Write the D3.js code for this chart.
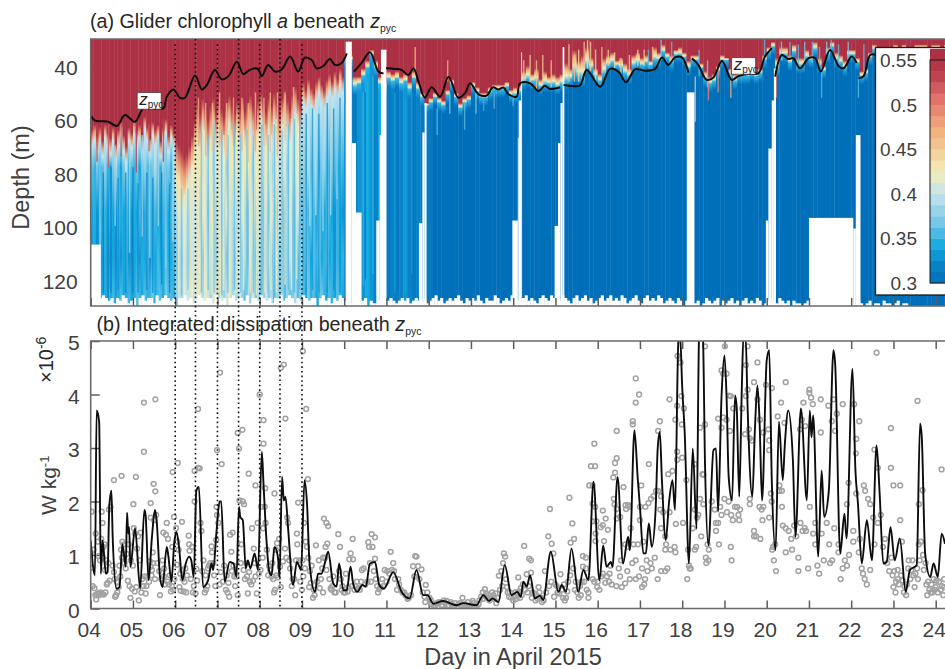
<!DOCTYPE html>
<html>
<head>
<meta charset="utf-8">
<script src="https://cdn.jsdelivr.net/npm/d3@7"></script>
<style>
  html, body { margin: 0; padding: 0; background: #fff; overflow: hidden; }
  svg { display: block; font-family: "Liberation Sans", Arial, sans-serif; }
</style>
</head>
<body>
<svg id="chart" width="945" height="669"></svg>
<script>
// Colour map of the chlorophyll panel
const chlStops = [0.3, 0.32, 0.34, 0.37, 0.4, 0.425, 0.47, 0.505, 0.53, 0.55];
const chlColors = ["#006fba", "#0a82c8", "#10a8e0", "#7cc8e6", "#c6e4ee", "#f3edb4", "#f0b27e", "#e2766b", "#c0454f", "#ad3145"];
const colorbarTicks = [0.3, 0.35, 0.4, 0.45, 0.5, 0.55];

const dayTicks = [4,5,6,7,8,9,10,11,12,13,14,15,16,17,18,19,20,21,22,23,24];
const depthTicks = [40,60,80,100,120];
const dissTicks = [0,1,2,3,4,5];
const markDays = [6, 6.48, 7, 7.5, 8, 8.48, 9];
const markTops = [32, 30, 32, 30, 32, 30, 32];

// Day 4 to 10, one column every 0.0625 day
const leftStep = 0.0625;
const redBaseLeft = [64,62,66,63,68,62,65,67,63,69,64,61,66,70,63,65,60,64,62,66,59,63,67,61,64,62,68,63,60,66,62,65,
  68,70,72,74,73,70,66,60,
  54,58,52,56,60,55,52,57,53,56,59,54,51,55,58,53,56,52,57,54,51,55,59,53,50,54,57,52,55,50,54,58,52,49,53,56,51,48,52,55,
  46,49,45,48,50,46,44,47,49,45,43,46,42,45,41,44];
const fadeBaseLeft = [70,68,72,69,74,67,70,73,68,75,70,66,72,76,68,71,66,70,67,72,64,68,73,66,70,67,74,68,65,72,67,70,
  82,84,88,90,86,82,78,72,
  68,72,64,70,76,68,64,71,66,70,74,67,62,69,72,65,70,64,71,67,63,68,74,66,61,67,71,64,69,62,66,72,64,60,65,69,62,58,63,66,
  54,56,52,55,57,53,50,54,56,52,50,52,49,51,47,50];
const chlRowDepths = [78, 95, 112, 128];
const chlAt78 = [.36,.35,.37,.34,.36,.38,.35,.34,.37,.35,.36,.34,.37,.39,.35,.36,.35,.37,.34,.36,.38,.36,.35,.37,.39,.36,.35,.38,.36,.37,.35,.39,
  .43,.42,.44,.43,.42,.41,.42,.43,
  .42,.43,.41,.40,.43,.42,.39,.41,.43,.40,.42,.38,.41,.43,.40,.42,.39,.41,.43,.42,.40,.38,.41,.43,.40,.39,.42,.41,.38,.40,.42,.39,.41,.40,.38,.41,.39,.40,.42,.38,
  .38,.37,.39,.36,.38,.37,.35,.37,.38,.36,.35,.37,.36,.34,.36,.35];
const chlAt95 = [.34,.345,.33,.345,.34,.35,.33,.345,.34,.33,.355,.345,.34,.36,.34,.33,.345,.34,.355,.33,.345,.36,.34,.345,.355,.34,.33,.355,.345,.34,.36,.355,
  .39,.41,.40,.42,.40,.39,.41,.40,
  .41,.39,.42,.40,.38,.41,.43,.39,.41,.40,.38,.42,.40,.39,.41,.38,.40,.42,.39,.37,.40,.42,.38,.41,.39,.37,.40,.38,.41,.39,.37,.40,.38,.36,.39,.41,.37,.38,.40,.37,
  .36,.38,.35,.37,.36,.34,.37,.35,.34,.36,.35,.34,.33,.35,.34,.33];
const chlAt112 = [.33,.34,.325,.34,.33,.345,.325,.33,.34,.325,.345,.33,.34,.355,.33,.325,.34,.345,.33,.345,.34,.355,.33,.345,.34,.355,.34,.345,.36,.34,.345,.355,
  .37,.39,.38,.40,.39,.38,.40,.41,
  .40,.42,.38,.40,.43,.39,.41,.38,.40,.42,.39,.37,.41,.39,.38,.40,.42,.38,.39,.37,.41,.39,.36,.40,.38,.37,.39,.41,.37,.38,.40,.37,.39,.36,.38,.40,.37,.38,.36,.39,
  .35,.37,.36,.34,.36,.35,.37,.34,.35,.36,.34,.35,.33,.35,.34,.35];
const chlAt128 = [.34,.345,.33,.355,.34,.345,.33,.345,.355,.34,.345,.36,.34,.345,.355,.34,.345,.36,.355,.34,.36,.345,.355,.37,.345,.355,.36,.345,.37,.355,.36,.345,
  .38,.40,.39,.41,.40,.41,.42,.40,
  .43,.41,.39,.42,.40,.38,.41,.43,.39,.41,.38,.40,.42,.38,.40,.39,.41,.38,.36,.40,.38,.41,.37,.39,.36,.38,.40,.37,.39,.36,.38,.37,.39,.36,.38,.36,.37,.39,.36,.37,
  .36,.34,.37,.35,.36,.34,.35,.37,.35,.34,.36,.35,.34,.36,.35,.34];

// Day 10 to the right edge, one column every 0.1 day
const rightStep = 0.1;
const redBaseRight = [36,36,44,44,41,38,34,38,44,46, 42,43,42,44,43,46,42,46,50,54, 52,50,52,53,49,45,50,54,52,51,
  46,48,50,50,48,47,47,47,46,49, 48,47,42,40,43,41,45,42,44,43, 44,43,39,41,34,38,36,33,37,41,
  43,37,36,35,38,37,39,41,36,35, 37,36,38,33,35,32,35,36,34,33, 35,38,36,36,39,42,44,43,40,36,
  37,41,43,42,42,42,41,42,41,36, 33,31,37,33,33,36,32,37,37,34, 36,31,37,40,33,31,35,36,38,34,
  34,37,42,41,35,32,33,33,34,33, 32,33,32,33,33,32,32,32,33,32, 32,33,32,33];
const blueTopRight = [38,38,48,47,44,41,36,41,47,50, 45,46,45,47,46,49,45,49,52,55, 54,52,54,55,51,47,52,56,54,53,
  48,50,52,52,50,49,49,49,48,51, 51,50,46,45,46,46,48,47,47,47, 48,47,46,45,43,44,45,40,41,44,
  46,43,40,39,40,41,43,44,40,39, 40,39,40,38,38,35,37,39,36,36, 37,41,38,38,41,45,47,46,42,38,
  38,43,46,44,44,44,43,44,43,38, 35,33,41,36,36,39,35,40,40,37, 38,34,40,42,36,33,38,39,41,36,
  36,39,44,43,37,34,35,35,35,34, 34,35,34,35,35,34,34,34,35,34, 34,35,34,35];
const deepChlRight = [.32,.32,.31,.33,.33,.34,.33,.32,.34,.33, .31,.32,.31,.32,.33,.32,.31,.32,.31,.31, .31,.30];
const fringeChl = [0.55, 0.47, 0.42, 0.35];

// Thin single-profile streaks: day, top depth, bottom depth, chlorophyll
const streaks = [
  [4.3,80,125,.32],[4.48,78,125,.32],[4.65,82,124,.325],[4.83,80,125,.32],[5,78,125,.32],[5.12,84,125,.325],[5.33,80,124,.32],[5.47,82,125,.325],[5.68,80,122,.32],[5.87,84,125,.325],
  [4.22,68,108,.385],[4.58,70,100,.38],[4.92,72,110,.385],[5.22,66,104,.38],[5.4,68,112,.39],[5.6,66,100,.385],[5.78,70,116,.38],[5.95,68,106,.39],
  [6.08,80,125,.43],[6.22,88,126,.42],[6.36,82,125,.43],[6.55,66,125,.43],[6.7,64,124,.425],[6.85,68,126,.43],[7.03,62,125,.43],[7.15,66,124,.425],[7.32,64,126,.43],[7.47,66,125,.43],[7.62,64,124,.425],[7.78,66,125,.43],[7.92,64,126,.425],[8.12,62,125,.43],[8.27,66,124,.425],[8.4,60,125,.43],[8.6,62,122,.425],[8.75,60,124,.42],[8.88,58,120,.42],
  [6.15,86,126,.365],[6.3,86,124,.37],[6.62,62,125,.365],[6.78,66,124,.36],[6.92,62,125,.365],[7.1,64,126,.36],[7.25,66,125,.365],[7.4,62,124,.36],[7.55,66,125,.365],[7.7,64,126,.36],[7.85,66,125,.365],[8.05,62,124,.36],[8.2,66,125,.365],[8.35,62,126,.36],[8.53,64,125,.365],[8.68,62,124,.36],[8.82,60,125,.355],[8.95,58,124,.355],
  [9.1,58,125,.33],[9.25,56,124,.335],[9.4,58,125,.33],[9.6,54,125,.33],[9.75,56,124,.33],[9.9,52,125,.33],
  [9.18,54,100,.39],[9.33,56,96,.395],[9.5,52,102,.385],[9.68,52,96,.39],[9.83,50,90,.385],
  [4.15,62,76,.53],[4.42,62,78,.52],[4.72,62,74,.52],[5.08,64,80,.54],[5.38,62,72,.52],[5.72,60,76,.53],
  [6.55,52,70,.48],[6.72,54,74,.47],[6.88,54,72,.46],[7.05,50,70,.47],[7.22,54,74,.46],[7.38,52,70,.48],[7.58,52,72,.47],[7.73,54,76,.46],[7.9,50,72,.47],[8.1,52,70,.47],[8.25,50,72,.46],[8.42,50,74,.47],[8.6,50,68,.46],[8.8,48,66,.46],
  [10.45,50,122,.35],[10.55,46,126,.345],[10.68,44,118,.35],[10.5,50,120,.31],[11.2,50,125,.34],[11.45,52,125,.34],[11.6,50,118,.335],
  [12.2,56,66,.36],[12.5,50,58,.37],[12.85,54,64,.36],[13.12,50,58,.37],[13.3,52,57,.35],[13.55,50,56,.36],[14,50,55,.36],
  [11.68,33,44,.46],[12.45,38,46,.47],[14.25,38,46,.46],[14.4,36,47,.45],[14.55,38,49,.46],[14.7,36,47,.45],[14.9,38,48,.46],
  [15.32,32,46,.45],[15.45,36,46,.46],[15.55,34,46,.44],[15.68,31,41,.46],[15.76,30.5,41,.44],[15.83,31,42,.45],[15.95,34,46,.44],[16.1,33,43,.46],[16.25,34,40,.45],[16.4,35,41,.44],[16.55,37,43,.46],[16.75,36,44,.45],[16.95,34,40,.44],[17.1,34,40,.45],[17.3,33,38,.46],
  [17.2,34,40,.36],[17.5,30,38,.37],[17.75,31,37,.36],[18.4,34,44,.36],[18.6,38,48,.37],[19.95,30,36,.36],[20.35,31,38,.37],[20.55,31,38,.36],[20.75,32,40,.36],[20.9,31,38,.37],[21.08,31,39,.36],[21.25,33,42,.36],[21.42,31,36,.37],[21.53,30,35,.36],[21.7,32,40,.36],[21.93,31,38,.37],[22.3,32,42,.36],
  [18.31,44,61,.46],[18.62,45,53,.5],[18.85,40,50,.49],[19.15,42,52,.47],[20.23,41,52,.5],[21.3,42,52,.36],[22.17,44,52,.36]
];

// White gaps in the record: start day, end day, depth the gap starts at
const gapStart = [4,10.035,10.18,10.28,10.76,10.84,10.87,11.77,11.85,11.905,13.98,14.11,14.13,14.19,14.98,15.06,15.12,15.17,18.11,19.98,20.04,20.12,20.17,21,22.05,22.11];
const gapEnd = [4.24,10.18,10.28,10.41,10.84,10.87,11,11.85,11.905,11.95,14.11,14.13,14.19,14.21,15.06,15.12,15.17,15.21,18.29,20.04,20.12,20.17,20.22,22.05,22.11,22.22];
const gapDepth = [107,31,69,95,98,66,34,99,65,54,98,67,53,35,100,69,54,33,50,98,71,53,41,97,101,66];

// Deepest sample of each profile, one every 0.0667 day from day 4
const floorStep = 0.0667;
const floorDepths = [127,127,128,127,126,127,128,127,129,127,128,126,127,129,128,127,130,127,126,128,127,127,129,126,128,127,126,127,128,127,
  130,127,127,126,128,127,129,127,126,127,128,127,127,129,126,127,128,127,130,127,126,128,127,127,128,126,129,127,127,128,
  126,127,128,127,129,127,127,126,128,127,126,127,129,127,128,126,127,128,127,127,130,127,126,128,127,129,127,128,126,127,
  128,128,129,128,130,129,128,127,130,128,129,129,128,130,129,128,127,128,129,128,127,128,127,129,128,127,128,128,127,129,
  128,127,126,128,127,129,128,127,128,127,126,128,129,127,128,127,128,126,128,129,127,128,128,126,127,129,128,127,128,126,
  129,128,128,127,126,128,127,128,129,127,126,127,128,126,127,129,128,126,127,128,129,127,126,128,127,126,128,127,129,128,
  127,126,128,127,126,128,127,128,126,127,129,128,127,126,128,129,127,126,128,127,128,126,127,129,128,127,128,129,127,128,
  130,128,129,127,129,128,130,129,127,128,129,128,127,130,128,129,128,127,129,128,130,128,127,129,128,129,127,128,130,129,
  128,127,128,129,127,128,129,128,130,128,129,129,130,129,128,130,129,129,128,130,129,130,128,129,129,130,128,129,130,129,
  129,130,128,129,130,129,128,130,129,129,130,128,129,129,130,129,128,130,129,129];

// Pycnocline depth, split where the record breaks, as [day, depth]
const zpycSegments = [
  [[4,58.7],[4.1,60.6],[4.25,60.8],[4.42,61],[4.62,62.6],[4.81,58.5],[5.05,61],[5.25,56],[5.52,56],[5.72,56],[5.8,51.6],[5.96,48.9],[6.11,52],[6.23,52],[6.47,43.7],[6.63,48.9],[6.75,47.2],[6.94,41.6],[7.1,45.1],[7.26,43.9],[7.46,38.5],[7.61,43.1],[7.73,41.9],[7.89,41],[7.97,41.4],[8.05,43.9],[8.2,39.7],[8.36,42.2],[8.52,41.4],[8.72,36.6],[8.91,42.2],[9.07,37],[9.23,37.9],[9.35,41],[9.5,40.2],[9.66,37.5],[9.78,39.7],[9.94,39],[10.06,35.4]],
  [[10.23,42.2],[10.41,39],[10.61,35],[10.81,42.2],[10.93,42.9]],
  [[10.99,41],[11.2,41.2],[11.36,41.6],[11.52,43.5],[11.64,41],[11.76,46],[11.91,52],[12.07,48.1],[12.27,51.6],[12.47,44.1],[12.7,52],[12.86,50.3],[12.98,46.6],[13.18,50.7],[13.37,51.2],[13.52,48.1],[13.65,48.9],[13.77,48.2],[13.89,50.7],[14.08,51.6],[14.16,46.6],[14.4,46.6],[14.6,49.5],[14.75,47.5],[14.87,48.7],[15.11,48.1]],
  [[15.19,47.2],[15.4,47.6],[15.58,47.4],[15.74,41.6],[16.06,47.9],[16.29,41.2],[16.49,42.2],[16.67,46.2],[16.89,41.3],[17.12,41.9],[17.36,41.2],[17.52,36.9],[17.67,39.7],[17.83,36.9],[17.99,36.9],[18.15,42.6]],
  [[18.23,37.2],[18.38,39.7],[18.58,45.3],[18.74,44.4],[18.94,38.2],[19.17,45.3],[19.33,43.9],[19.6,43],[19.8,42.9],[19.96,36.6],[20.12,33.4]],
  [[20.2,44.1],[20.36,36],[20.51,37.5],[20.63,37.2],[20.79,41],[20.99,37.2],[21.15,37.2],[21.28,42.2],[21.5,34.1],[21.7,40.1],[21.82,41],[22.01,36.6],[22.13,39]],
  [[22.17,44.7],[22.29,44],[22.45,36],[22.6,36]]
];
const zpycLabelDays = [5.1, 19.17];
const zpycLabelDepths = [50.1, 37];

// Smoothed dissipation, [day, W/kg x 1e-6]
const dissLine = [[4,1.27],[4.1,.62],[4.14,3.7],[4.2,3.49],[4.24,.65],[4.28,1.27],[4.36,.65],[4.4,.68],[4.44,1.9],[4.49,2.2],[4.52,1.34],[4.61,.37],[4.68,.4],[4.75,1.2],[4.83,.78],[4.86,1.79],[4.89,1.4],[4.91,1.52],[4.94,.78],[5.05,1.5],[5.17,.37],[5.27,1.84],[5.3,1.74],[5.37,.53],[5.45,1.34],[5.52,1.84],[5.56,1.65],[5.64,.59],[5.7,.4],[5.8,1.15],[5.84,.97],[5.91,.5],[5.98,1.25],[6.03,1.43],[6.09,1.15],[6.17,.53],[6.25,.84],[6.33,.97],[6.38,.9],[6.44,.59],[6.5,2.2],[6.56,2.27],[6.66,.4],[6.78,.53],[6.86,.84],[6.9,.72],[6.98,1.46],[7.05,2],[7.09,2],[7.17,.5],[7.29,.87],[7.38,.84],[7.45,.59],[7.51,1.9],[7.54,1.71],[7.6,1.65],[7.67,.75],[7.72,.9],[7.78,.75],[7.88,1.03],[7.96,.72],[8.05,2.93],[8.09,2.33],[8.16,1.28],[8.22,.72],[8.28,.62],[8.35,1.15],[8.43,.97],[8.47,.59],[8.53,2.46],[8.57,2.02],[8.61,2.09],[8.67,1.52],[8.79,.44],[8.88,.87],[8.94,.78],[8.98,.72],[9.06,2.4],[9.12,1.96],[9.18,.84],[9.31,.31],[9.38,.65],[9.46,.65],[9.54,.84],[9.62,1.06],[9.74,.47],[9.82,.41],[9.88,.84],[9.98,.34],[10.06,.34],[10.15,.78],[10.21,.47],[10.31,.31],[10.43,.44],[10.51,.41],[10.61,.84],[10.73,.87],[10.83,.44],[10.94,.37],[11.16,.68],[11.36,.31],[11.55,.19],[11.71,.72],[11.87,.25],[11.97,.25],[12.11,.09],[12.34,.14],[12.66,.06],[12.82,.1],[13.13,.06],[13.29,.25],[13.43,.14],[13.51,.19],[13.65,.12],[13.8,.81],[13.96,.25],[14.1,.31],[14.18,.22],[14.24,.5],[14.32,.41],[14.4,.62],[14.51,.19],[14.63,.24],[14.71,.16],[14.89,1.06],[15.07,.31],[15.15,.44],[15.25,.31],[15.38,1.12],[15.54,.31],[15.66,.72],[15.78,.53],[15.9,2.37],[16.04,.53],[16.13,1.18],[16.21,.78],[16.31,.87],[16.35,.78],[16.47,2.46],[16.6,.84],[16.72,1.34],[16.76,1.09],[16.87,3.33],[16.95,2.4],[17,1.9],[17.08,1.03],[17.14,1.03],[17.21,1.59],[17.28,1.15],[17.37,1.84],[17.42,2.99],[17.47,3.3],[17.52,2.4],[17.61,1.28],[17.69,2],[17.77,2.4],[17.83,1.84],[17.91,5],[17.95,5.1],[18,4.14],[18.06,3.27],[18.16,.84],[18.25,2.99],[18.34,1.49],[18.4,5.1],[18.45,5.3],[18.49,5.1],[18.54,2.7],[18.62,1.18],[18.74,2.96],[18.8,2.99],[18.85,1.81],[18.93,3.95],[19,4.73],[19.05,3.95],[19.1,2.46],[19.18,2.02],[19.25,3.98],[19.29,3.76],[19.35,2.09],[19.41,4.08],[19.45,5.1],[19.5,5.1],[19.55,3.7],[19.66,2.09],[19.72,3.33],[19.78,4.17],[19.83,3.52],[19.89,2.02],[20,4.64],[20.06,4.83],[20.12,2.4],[20.21,1.09],[20.29,3.49],[20.38,2.4],[20.43,3.08],[20.51,3.7],[20.62,2.77],[20.68,1.34],[20.81,3.74],[20.95,2.02],[21.02,3.7],[21.06,3.2],[21.1,3.61],[21.22,.97],[21.3,2.58],[21.36,1.71],[21.47,2.2],[21.58,4.83],[21.62,4.58],[21.74,1.03],[21.84,1.77],[21.89,1.31],[22.03,4.48],[22.1,2.58],[22.16,1.96],[22.25,.84],[22.37,1.65],[22.49,.9],[22.6,3.05],[22.67,2.2],[22.76,.84],[22.84,.87],[22.93,1.52],[23.03,.9],[23.15,1.31],[23.29,.31],[23.39,.72],[23.55,.81],[23.63,3.46],[23.67,3.21],[23.75,1.03],[23.87,.59],[23.95,.84],[24.05,.59],[24.14,1.4],[24.22,1.21]];

// Individual dissipation estimates, [day, W/kg x 1e-6]
const dissPoints = [[4.02,1.81],[4.26,1.81],[4.28,1.6],[4.55,2.4],[4.73,2.48],[5.07,2.46],[5.26,3.85],[5.53,3.91],[5.26,2.93],[5.49,2.33],[5.53,2.19],[5.42,1.97],[5.01,1.95],[6.06,2.72],[5.94,2.55],[5.97,1.71],[6.54,3.73],[6.46,2.57],[6.54,2.63],[6.58,2.62],[7.06,4.41],[6.99,2.96],[7.1,2.7],[7.48,3.28],[7.59,3.34],[7.51,2.99],[7.74,2.52],[7.9,2.3],[8,4],[8.09,3.52],[8.09,3.08],[8.35,2.15],[8.5,4.5],[8.57,4.56],[8.61,3.55],[9.02,4.81],[9.1,3.73],[9.14,2.42],[8.91,1.98],[6.16,1.62],[5.8,1.6],[5.72,1.42],
[4,1.04],[4.03,.76],[4.05,.42],[4.09,.38],[4.11,.25],[4.13,.17],[4.15,.27],[4.18,.28],[4.2,.25],[4.23,.3],[4.27,.27],[4.31,.26],[4.35,.3],[4.38,.45],[4.4,.48],[4.45,.52],[4.12,1.4],[4.18,.98],[4.25,1.3],[4.3,1.15],[4.33,1.2],[4.37,.9],[4.43,1.85],[4.47,1.9],[4.52,.8],[4.55,.68],[4.58,.22],[4.6,.25],[4.63,.3],[4.66,.4],[4.7,.6],[4.72,1.1],[4.75,1.25],[4.8,.85],[4.83,.75],[4.88,.52],[4.92,.42],[4.94,.2],[4.98,.37],[5.04,.32],[5.08,.4],[5.12,1.35],[5.14,.15],[5.2,.3],[5.3,.28],[5.02,1.5],[5.05,1.4],[5.18,1.42],[5.28,.6],[5.34,.6],[5.4,.88],[5.42,.78],[5.45,.72],[5.47,1.05],[5.42,1.7],[5.5,1.65],[5.55,1.75],[5.64,.25],[5.67,.55],[5.73,.6],[5.76,.45],[5.85,.45],[5.9,.32],[5.95,.35],[5.98,.55],[5.78,1.38],[5.83,1.3],[5.93,1.15],
[4.07,1.1],[4.17,1.25],[4.22,.9],[4.29,.95],[4.34,.72],[4.42,.85],[4.57,.55],[4.62,.5],[4.68,.8],[4.74,.95],[4.78,1.2],[4.85,1.02],[4.9,1.2],[4.95,.9],[5,.8],[5.1,1.12],[5.16,.9],[5.22,.55],[5.25,.42],[5.32,.42],[5.38,.5],[5.44,.62],[5.48,.85],[5.52,.55],[5.58,.85],[5.62,.7],[5.7,.9],[5.74,.75],[5.82,.5],[5.87,.62],[5.92,.42],
[6.02,1.5],[6.05,1.25],[6.08,1.1],[6.1,.4],[6.13,.33],[6.18,.55],[6.2,.32],[6.24,.75],[6.26,.3],[6.32,1.36],[6.33,1.2],[6.34,1.08],[6.4,1.15],[6.42,.3],[6.48,.28],[6.5,.74],[6.46,2],[6.6,1.6],[6.62,1.45],[6.67,.9],[6.7,.3],[6.73,.35],[6.76,.42],[6.8,.8],[6.83,.85],[6.86,1.16],[6.87,1.05],[6.92,.62],[6.97,1.28],[6.98,1.9],[6.99,1.75],[7.02,1.6],[7.05,.45],[7.16,.8],[7.2,.35],[7.24,.3],[7.28,.22],[7.3,1.38],[7.36,1.42],[7.33,1.06],[7.38,.8],[7.42,.42],[7.45,.6],[7.48,.25],[7.52,2.02],[7.6,2],[7.63,1.95],[7.57,1.2],[7.65,.55],[7.7,.6],[7.72,.28],[7.77,.5],[7.8,.45],[7.82,1.5],[7.86,1.12],[7.9,.6],[7.93,.28],[7.95,1.6],[7.98,.65],[8.03,1.9],[8.08,1.5],[8.12,1.9],[8.13,2.25],[8.14,1.6],[8.17,1.1],[8.22,.8],[8.28,.6],[8.32,.55],[8.38,1.1],[8.41,1.22],[8.36,.35],[8.34,.3],[8.43,.58],[8.46,1.3],[8.5,.4],[8.65,1.7],[8.67,1.6],[8.6,1.12],[8.63,.95],[8.7,.9],[8.78,.55],[8.84,.25],[8.88,1.4],[8.89,1.2],[8.86,.9],[8.94,.9],[9,.35],[9.01,.9],[9.05,1.6],[9.09,1.25],[9.12,1.15],[9.15,.95],[9.17,.4],[9.19,.7],[9.23,.8],[9.26,.2],[9.3,.25],[9.33,1.18],[9.4,.9],[9.45,.55],[9.5,.3],[9.52,1.68],[9.58,1.6],[9.62,1.54],[9.6,1.21],[9.56,1.15],[9.55,.95],[9.5,.95],[9.7,.35],[9.74,.6],[9.8,.3],[9.86,1.39],[9.9,1.15],[9.88,.7],[9.94,.35],[9.99,.3],
[6.04,.82],[6.12,.65],[6.15,.72],[6.22,.5],[6.28,.62],[6.37,.55],[6.44,.42],[6.52,.52],[6.64,.7],[6.72,.62],[6.78,.75],[6.9,.85],[6.95,.42],[7.08,.68],[7.13,.5],[7.22,.62],[7.26,.48],[7.34,.7],[7.4,.6],[7.55,.85],[7.62,.72],[7.68,.85],[7.75,.68],[7.84,.52],[7.88,.85],[8.02,.72],[8.07,.95],[8.2,.62],[8.25,.72],[8.3,.85],[8.4,.62],[8.48,.78],[8.55,.88],[8.72,.75],[8.76,.42],[8.82,.55],[8.96,.5],[9.03,.6],[9.07,.75],[9.21,.48],[9.28,.35],[9.36,.5],[9.42,.38],[9.48,.75],[9.58,.72],[9.65,.55],[9.68,.38],[9.72,.42],[9.77,.3],[9.92,.55],[9.96,.42],
[10.04,.65],[10.08,.32],[10.12,.92],[10.15,1.03],[10.2,1.3],[10.21,.92],[10.24,.35],[10.3,.5],[10.37,.35],[10.42,.72],[10.46,.75],[10.5,.45],[10.57,1.24],[10.59,1.15],[10.67,1.15],[10.65,1.39],[10.73,1.33],[10.73,.93],[10.61,.85],[10.75,.55],[10.8,.3],[10.86,.4],[10.9,.55],[10.96,.72],[11.02,.7],[11.1,1.06],[11.16,.85],[11.2,.55],[11.25,.35],[11.3,.45],[11.38,.3],[11.45,.25],[11.53,.2],[11.63,.79],[11.71,.97],[11.68,.98],[11.75,.79],[11.83,.73],[11.93,.44],[11.9,.22],[11.97,.3],
[10.02,.3],[10.1,.4],[10.18,.42],[10.27,.42],[10.33,.38],[10.4,.5],[10.55,.5],[10.63,.5],[10.7,.7],[10.78,.42],[10.83,.36],[10.92,.42],[11,.5],[11.07,.65],[11.13,.72],[11.18,.7],[11.28,.55],[11.34,.35],[11.42,.3],[11.5,.18],[11.58,.25],[11.66,.6],[11.78,.55],[11.86,.3],[11.92,.12],
[12.05,.15],[12.12,.05],[12.18,.1],[12.24,.12],[12.3,.06],[12.36,.15],[12.42,.14],[12.48,.06],[12.54,.08],[12.6,.03],[12.68,.02],[12.74,.1],[12.8,.2],[12.86,.08],[12.92,.12],[12.98,.06],[13.04,.14],[13.1,.05],[13.18,.08],[13.24,.22],[13.28,.3],[13.33,.36],[13.38,.2],[13.44,.15],[13.5,.3],[13.55,.18],[13.6,.1],[13.66,.61],[13.72,.7],[13.78,1.03],[13.81,.97],[13.76,.85],[13.85,.4],[13.92,.3],[14,.15],[14.05,.3],[14.12,.58],[14.16,.2],[14.2,.25],[14.26,1.17],[14.32,.64],[14.38,.93],[14.42,.9],[14.42,.67],[14.46,.3],[14.55,.25],[14.6,.4],[14.66,.2],[14.72,.15],[14.75,.7],[14.83,1.35],[14.91,1.21],[14.87,1.86],[14.95,1.03],[15,.45],[15.05,.3],[15.12,.64],[15.18,.2],[15.22,.15],[15.3,.5],[15.33,2.07],[15.4,1.59],[15.36,1.23],[15.44,1.3],[15.48,.5],[15.52,.3],[15.6,.25],[15.65,.98],[15.72,.95],[15.65,.78],[15.72,.75],[15.78,.3],[15.78,.2],
[12.02,.2],[12.08,.08],[12.15,.05],[12.22,.03],[12.28,.12],[12.33,.05],[12.45,.05],[12.52,.12],[12.57,.05],[12.63,.1],[12.7,.08],[12.77,.05],[12.84,.02],[12.9,.05],[12.95,.04],[13.02,.03],[13.07,.1],[13.14,.03],[13.2,.15],[13.3,.18],[13.36,.28],[13.41,.25],[13.47,.2],[13.53,.25],[13.58,.28],[13.63,.2],[13.69,.35],[13.74,.42],[13.83,.55],[13.87,.3],[13.9,.22],[13.95,.2],[14.03,.22],[14.08,.18],[14.1,.28],[14.14,.32],[14.18,.38],[14.23,.45],[14.28,.35],[14.34,.3],[14.37,.42],[14.44,.2],[14.5,.28],[14.53,.15],[14.58,.18],[14.62,.3],[14.68,.12],[14.78,.3],[14.85,.42],[14.9,.5],[14.97,.22],[15.03,.42],[15.09,.28],[15.15,.35],[15.2,.45],[15.25,.2],[15.28,.32],[15.35,.62],[15.42,.75],[15.46,.35],[15.55,.2],[15.58,.42],[15.62,.5],[15.68,.5],[15.74,.35],
[15.92,.5],[15.99,.4],[15.88,.55],[16.08,.6],[16.18,.48],[16.12,.65],[16.27,.5],[16.33,.45],[16.44,.42],[16.5,.75],[16.55,.9],[16.7,.7],[16.76,.55],[16.82,.85],[16.9,.55],[16.98,.6],[17.05,.75],[17.12,.55],[17.18,.7],[17.25,.85],[17.35,.95],[17.42,.55],[17.5,.7],
[15.92,3.08],[15.84,2.66],[15.94,2.66],[15.8,2.3],[15.88,2.3],[15.88,1.96],[15.94,1.9],[15.9,1.63],[15.97,1.63],[15.95,1.4],[15.95,1.26],[16,.5],[16.12,1.83],[16.19,1.68],[16.12,1.56],[16.07,1.52],[16.24,1.47],[16.15,1.26],[16.04,.35],[16.22,.6],[16.28,.65],[16.3,.8],[16.45,3.32],[16.45,2.81],[16.41,2.72],[16.41,2.54],[16.37,2.45],[16.61,2.27],[16.38,2.05],[16.4,1.95],[16.72,1.93],[16.67,1.86],[16.53,1.71],[16.45,1.86],[16.45,1.68],[16.65,1.2],[16.72,1.15],[16.53,.6],[16.65,.47],[16.57,.4],
[16.9,4.3],[16.98,4],[16.9,3.85],[16.83,3.5],[16.83,3.44],[17.21,2.7],[17.47,3.5],[17.43,3.32],[17.7,3.91],[17.67,2.51],[17.77,2.57],[17.89,4.72],[17.96,4.6],[17.88,3.79],[17.98,3.97],[18.04,3.74],[17.84,3.53],[17.99,3.44],[17.88,2.93],[17.88,2.78],[18,2.82],[18.3,2.7],[18.54,4.9],[18.42,3.38],[18.54,3.44],[18.48,2.51],[19.01,4.9],[18.93,4.45],[18.97,4.39],[19.05,4.39],[19.11,3.98],[19.15,3.97],[19.21,3.74],[18.85,3.55],[18.97,3.57],[19.05,3.53],[18.93,3.38],[19.13,3.32],[19.55,4.9],[19.51,4.55],[19.78,4.6],[19.7,4.23],[19.55,4.09],[19.51,3.97],[19.42,3.74],[19.78,3.91],[19.98,4.18],[20.12,4.12],[20.45,4.23],[20.34,3.85],[20.26,3.59],[19.84,3.53],[19.92,3.29],[20.04,3.35],[19.58,3.35],[19.6,3.18],[19.65,3.14],[19.49,3.26],[20.06,3.14],[20.06,2.96],[21.01,4.09],[21.01,4.03],[21.05,3.94],[20.87,3.85],[21.09,3.82],[21.28,3.91],[21.46,3.79],[21.58,3.91],[21.8,3.82],[21.54,3.5],[21.66,3.64],[21.62,3.32],[21.28,3.29],[20.83,3.53],[20.91,3.41],[20.79,3.35],[20.42,3.47],[22.07,3.82],[22.19,3.5],[22.12,3.17],[22.11,2.9],[22.6,4.78],[22.94,3.37],[22.55,2.97],[22.63,2.63],[22.94,2.63],[23,2.3],[23.16,2.3],[23.57,3.88],[24.14,2.6],[23.69,2.21],[23.6,1.95],
[16.66,1.93],[16.75,1.9],[16.78,1.5],[16.85,1.2],[16.9,.9],[16.95,1.2],[17.03,2.3],[17,1.9],[17,1.65],[17.1,.45],[17.05,.4],[17.13,1.9],[17.2,1.97],[17.26,2.05],[17.32,2.1],[17.08,1.25],[17.16,.9],[17.28,.75],[17.38,2.2],[17.43,2.2],[17.5,2.1],[17.48,1.85],[17.55,1.8],[17.5,1.5],[17.6,1.35],[17.62,1.2],[17.6,1.1],[17.7,1.8],[17.72,1.1],[17.65,.75],[17.6,.7],[17.82,1.15],[17.84,1.05],[17.85,1.58],[18.02,1.6],[18.1,2.4],[18.12,.55],[18.16,.8],[18.18,.75],[18.2,.75],[18.14,1.1],[18.25,1.5],[18.3,1.85],[18.35,1.7],[18.38,1.75],[18.3,1.1],[18.33,1.15],[18.42,2.05],[18.5,2.5],[18.45,1.35],[18.5,1.95],[18.56,.95],[18.6,1.2],[18.63,1.1],[18.57,.85],[18.62,.9],[18.7,2],[18.77,1.85],[18.8,1.6],[18.85,1.6],[18.9,1.9],[18.93,1.75],[18.8,1.45],[18.87,1.2],[19,2.05],[19.06,1.8],[19.1,2],[19.16,1.75],[19.2,1.65],[19.25,1.9],[19.3,1.9],[19.33,1.75],[19.37,1.85],[19.35,1.65],[19.15,1.15],[19.17,.9],[19.6,1.95],[19.6,2.05],[19.7,1.45],[19.75,1.35],[19.7,1.35],[19.85,1.3],[19.83,1.9],[19.88,1.85],[19.9,1.65],[19.92,1.9],[20.06,1.7],[20.1,2.15],[20.12,2],[20.15,1.15],[20.13,1.1],[20.17,.9],[20.2,1.2],[20.22,.7],[20.3,2.2],[20.3,2.3],[20.36,2.2],[20.36,1.9],[20.38,1.55],[20.45,1.5],[20.52,1.45],[20.45,1.05],[20.58,1.3],[20.6,1.1],[20.65,1.55],[20.7,1.35],[20.75,.95],[20.75,.7],[20.8,1.6],[20.85,1.45],[20.9,1.5],[20.93,1.45],[20.98,.75],[21.02,1.9],[21.1,1.4],[21.15,1.6],[21.15,1.2],[21.2,.8],[21.24,.65],[21.3,1.4],[21.35,.9],[21.42,1.6],[21.48,1.2],[21.5,.85],[21.55,.9],[21.6,1.5],[21.7,1.2],[21.7,1.05],[21.75,.55],[21.85,.9],[21.8,.75],[21.9,.8],[21.95,1],[21.9,1.95],[21.94,2.35],[22.05,1.45],[22.05,1.25],[22.12,2.15],[22.2,1.3],[22.18,1.05],[22.25,.75],[22.28,.65],[22.32,.55],[22.37,.45],[22.45,.72],[22.3,2.3],[22.33,2.2],[22.4,2.05],[22.45,1.95],[22.52,1.7],[22.55,1.2],[22.63,1.6],[22.7,1.75],[22.75,1.15],[22.8,1.3],[22.85,.85],[22.9,.7],[22.95,.95],[23,.4],[23.05,.3],[23.1,.55],[23.16,1.65],[23.2,1.25],[23.25,.3],[23.3,.25],[23.35,.75],[23.4,.55],[23.45,.9],[23.5,.4],[23.56,.75],[23.6,1.2],[23.65,1.25],[23.7,1],[23.76,.85],[23.8,.25],[23.85,.35],[23.9,.45],[23.95,.55],[24,.4],[24.05,.3],[24.12,.35],[24.18,.25],[24.2,.4],
[22.98,.62],[23.02,.7],[23.06,.5],[23.1,.72],[23.13,.45],[23.18,.62],[23.22,.52],[23.26,.42],[23.32,.45],[23.36,.9],[23.42,.72],[23.47,.62],[23.52,.65],[23.58,.55],[23.62,.9],[23.72,.72],[23.78,.45],[23.82,.5],[23.88,.3],[23.92,.3],[23.98,.35],[24.02,.52],[24.08,.5],[24.15,.42],[24.2,.55]];

const svg = d3.select("#chart");
const textColor = "#404040";
const axisColor = "#5c5c5c";

// Shared scales
const x = d3.scaleLinear().domain([4, 25]).range([90.7, 90.7 + 21 * 42.25]);
const depthY = d3.scaleLinear().domain([30, 130]).range([39, 306]);
const dissY = d3.scaleLinear().domain([0, 5]).range([608.5, 341]);
const chlColor = d3.scaleLinear().domain(chlStops).range(chlColors).clamp(true);
const cbY = d3.scaleLinear().domain([0.3, 0.55]).range([283, 60]);

const defs = svg.append("defs");
defs.append("clipPath").attr("id", "clip-a").append("rect")
  .attr("x", x(4)).attr("y", depthY(30)).attr("width", 900).attr("height", depthY(130) - depthY(30));
defs.append("clipPath").attr("id", "clip-b").append("rect")
  .attr("x", x(4)).attr("y", dissY(5)).attr("width", 900).attr("height", dissY(0) - dissY(5));

function styleAxis(g) {
  g.select(".domain").remove();
  g.selectAll(".tick line").attr("stroke", axisColor).attr("stroke-width", 1.5);
  g.selectAll(".tick text").attr("fill", textColor).style("font-size", "21px");
}

// ---- Panel (a) ----
// left ticks go under the image, as in the original
svg.append("g")
  .attr("transform", `translate(${x(4)},0)`)
  .call(d3.axisLeft(depthY).tickValues(depthTicks).tickSize(-9).tickPadding(13))
  .call(styleAxis)
  .selectAll("text").attr("dy", "0.42em");

// one soft vertical gradient per profile
function addColumn(heat, id, day, step, stops) {
  const grad = defs.append("linearGradient").attr("id", id)
    .attr("gradientUnits", "userSpaceOnUse")
    .attr("x1", 0).attr("x2", 0).attr("y1", depthY(30)).attr("y2", depthY(130));
  grad.selectAll("stop").data(stops).join("stop")
    .attr("offset", d => (d[0] - 30) / 100)
    .attr("stop-color", d => chlColor(d[1]));
  heat.append("rect")
    .attr("x", x(day)).attr("y", depthY(30))
    .attr("width", x(day + step) - x(day) + 0.4)
    .attr("height", depthY(130) - depthY(30))
    .attr("fill", `url(#${id})`);
}

const heatClip = svg.append("g").attr("clip-path", "url(#clip-a)");
const heat = heatClip.append("g").style("filter", "blur(0.45px)");

redBaseLeft.forEach((red, i) => {
  const fade = fadeBaseLeft[i];
  const rows = [chlAt78[i], chlAt95[i], chlAt112[i], chlAt128[i]];
  const stops = [[red, fringeChl[0]], [(red + fade) / 2, 0.48], [fade, Math.max(rows[0], 0.4)]];
  chlRowDepths.forEach((d, k) => { if (d > fade + 3) stops.push([d, rows[k]]); });
  addColumn(heat, "l" + i, 4 + i * leftStep, leftStep, stops);
});

redBaseRight.forEach((red, i) => {
  const blue = blueTopRight[i];
  const span = blue - red;
  const deep = deepChlRight[i] ?? 0.3;
  const stops = [[red, fringeChl[0]], [red + span / 3, fringeChl[1]], [red + 2 * span / 3, fringeChl[2]], [blue, fringeChl[3]], [blue + 3, deep]];
  addColumn(heat, "r" + i, 10 + i * rightStep, rightStep, stops);
});

// thin streaks of single profiles
heat.append("g").selectAll("line").data(streaks).join("line")
  .attr("x1", d => x(d[0])).attr("x2", d => x(d[0]))
  .attr("y1", d => depthY(d[1])).attr("y2", d => depthY(d[2]))
  .attr("stroke", d => chlColor(d[3]))
  .attr("stroke-width", 1.4)
  .attr("stroke-opacity", 0.8);

// white below the deepest sample of each profile
heat.append("g").selectAll("rect").data(floorDepths).join("rect")
  .attr("x", (d, i) => x(4 + i * floorStep))
  .attr("y", d => depthY(d))
  .attr("width", x(4 + floorStep) - x(4) + 0.3)
  .attr("height", d => depthY(130) - depthY(d) + 2)
  .attr("fill", "#fff");

// gaps in the record
heat.append("g").selectAll("rect").data(gapStart).join("rect")
  .attr("x", d => x(d))
  .attr("width", (d, i) => x(gapEnd[i]) - x(d))
  .attr("y", (d, i) => depthY(gapDepth[i]))
  .attr("height", (d, i) => depthY(130) - depthY(gapDepth[i]) + 2)
  .attr("fill", "#fff");

// bottom ticks stay above the image
svg.append("g")
  .attr("transform", `translate(0,${depthY(130)})`)
  .call(d3.axisBottom(x).tickValues(dayTicks).tickSize(-8).tickFormat(""))
  .call(styleAxis);

// pycnocline line
const zLine = d3.line().curve(d3.curveCatmullRom.alpha(0.5)).x(d => x(d[0])).y(d => depthY(d[1]));
const zGroup = svg.append("g").attr("clip-path", "url(#clip-a)");
zGroup.selectAll("path").data(zpycSegments).join("path")
  .attr("d", zLine)
  .attr("fill", "none")
  .attr("stroke", "#0d0d0d")
  .attr("stroke-width", 2)
  .attr("stroke-linejoin", "round");

// panel frame
function frame(yTop, yBottom) {
  svg.append("path")
    .attr("d", `M945,${yTop}H${x(4)}V${yBottom}H945`)
    .attr("fill", "none")
    .attr("stroke", "#6a6a6a")
    .attr("stroke-width", 1.6);
}
frame(depthY(30), depthY(130));

// z_pyc label boxes
const labelBox = svg.append("g").selectAll("g").data(zpycLabelDays).join("g")
  .attr("transform", (d, i) => `translate(${x(d)},${depthY(zpycLabelDepths[i])})`);
labelBox.append("rect")
  .attr("width", 24).attr("height", 16.5)
  .attr("fill", "#fff").attr("stroke", "#444").attr("stroke-width", 0.8);
const labelText = labelBox.append("text").attr("x", 2).attr("y", 12).attr("fill", "#222");
labelText.append("tspan").style("font-style", "italic").style("font-size", "17px").text("z");
labelText.append("tspan").attr("dy", 3).style("font-size", "10px").text("pyc");

// Colour bar box
svg.append("rect")
  .attr("x", 875.5).attr("y", 47.5).attr("width", 80).attr("height", 247.5)
  .attr("fill", "#fff").attr("stroke", "#1a1a1a").attr("stroke-width", 1.3);
const cbLevels = d3.range(0.3, 0.55, 0.0125);
svg.append("g").selectAll("rect").data(cbLevels).join("rect")
  .attr("x", 930).attr("width", 30)
  .attr("y", d => cbY(d + 0.0125))
  .attr("height", cbY(0.3) - cbY(0.3125) + 0.4)
  .attr("fill", d => chlColor(d + 0.00625));
svg.append("rect")
  .attr("x", 930).attr("y", cbY(0.55)).attr("width", 30).attr("height", cbY(0.3) - cbY(0.55))
  .attr("fill", "none").attr("stroke", "#1a1a1a").attr("stroke-width", 1);
svg.append("g").selectAll("text").data(colorbarTicks).join("text")
  .attr("x", 917)
  .attr("y", d => cbY(d) + 7)
  .attr("text-anchor", "end")
  .attr("fill", textColor)
  .style("font-size", "19px")
  .text(d => d);

// ---- Panel (b) ----
svg.append("g")
  .attr("transform", `translate(0,${dissY(0)})`)
  .call(d3.axisBottom(x).tickValues(dayTicks).tickSize(-8).tickPadding(14).tickFormat(d3.format("02d")))
  .call(styleAxis)
  .selectAll("text").attr("dx", -2);
svg.append("g")
  .attr("transform", `translate(0,${dissY(5)})`)
  .call(d3.axisTop(x).tickValues(dayTicks).tickSize(-8).tickFormat(""))
  .call(styleAxis);
svg.append("g")
  .attr("transform", `translate(${x(4)},0)`)
  .call(d3.axisLeft(dissY).tickValues(dissTicks).tickSize(-9).tickPadding(11).tickFormat(d3.format("d")))
  .call(styleAxis)
  .selectAll("text").attr("dy", "0.42em");

const plotB = svg.append("g").attr("clip-path", "url(#clip-b)");
plotB.append("g").selectAll("circle").data(dissPoints).join("circle")
  .attr("cx", d => x(d[0]))
  .attr("cy", d => dissY(d[1]))
  .attr("r", 2.4)
  .attr("fill", "none")
  .attr("stroke", "#a2a2a2")
  .attr("stroke-width", 1.5);
plotB.append("path")
  .datum(dissLine)
  .attr("d", d3.line().curve(d3.curveMonotoneX).x(d => x(d[0])).y(d => dissY(d[1])))
  .attr("fill", "none")
  .attr("stroke", "#0d0d0d")
  .attr("stroke-width", 1.9)
  .attr("stroke-linejoin", "round");
frame(dissY(5), dissY(0));

// dotted day markers across both panels
svg.append("g").selectAll("line").data(markDays).join("line")
  .attr("x1", d => x(d)).attr("x2", d => x(d))
  .attr("y1", (d, i) => depthY(markTops[i]))
  .attr("y2", dissY(0))
  .attr("stroke", "#111")
  .attr("stroke-width", 1.6)
  .attr("stroke-dasharray", "1.6,3");

// ---- Titles and axis labels ----
function panelTitle(xPos, yPos, parts) {
  const t = svg.append("text").attr("x", xPos).attr("y", yPos).attr("fill", "#262626").style("font-size", "19.7px");
  parts.forEach(p => {
    const s = t.append("tspan").text(p.text);
    if (p.italic) s.style("font-style", "italic");
    if (p.sub) s.attr("dy", 4).style("font-size", "10.5px");
  });
}
panelTitle(90, 28, [
  { text: "(a) Glider chlorophyll " }, { text: "a", italic: true }, { text: " beneath " },
  { text: "z", italic: true }, { text: "pyc", sub: true }
]);
panelTitle(96.5, 331, [
  { text: "(b) Integrated dissipation beneath " }, { text: "z", italic: true }, { text: "pyc", sub: true }
]);

svg.append("text")
  .attr("transform", "translate(29,177.5) rotate(-90)")
  .attr("text-anchor", "middle")
  .attr("fill", textColor)
  .style("font-size", "23.5px")
  .text("Depth (m)");

const wLabel = svg.append("text")
  .attr("transform", "translate(56,515) rotate(-90)")
  .attr("fill", textColor)
  .style("font-size", "21px");
wLabel.append("tspan").text("W kg");
wLabel.append("tspan").attr("dy", -7).style("font-size", "13px").text("-1");

const expLabel = svg.append("text")
  .attr("transform", "translate(53,383) rotate(-90)")
  .attr("fill", "#262626")
  .style("font-size", "20px");
expLabel.append("tspan").text("×10");
expLabel.append("tspan").attr("dy", -7).style("font-size", "14px").text("-6");

svg.append("text")
  .attr("x", 513).attr("y", 665)
  .attr("text-anchor", "middle")
  .attr("fill", textColor)
  .style("font-size", "23.5px")
  .text("Day in April 2015");
</script>
</body>
</html>
